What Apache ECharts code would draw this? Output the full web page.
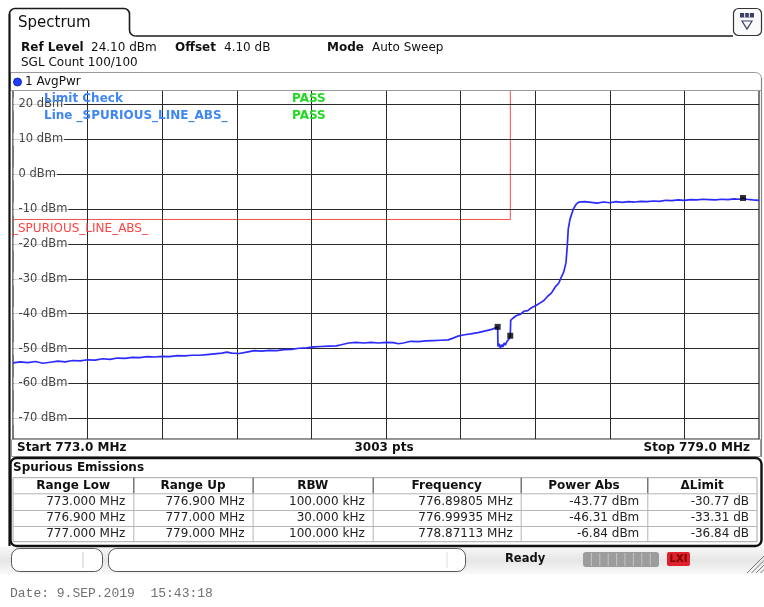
<!DOCTYPE html>
<html><head><meta charset="utf-8">
<script src="https://cdn.jsdelivr.net/npm/echarts@6/dist/echarts.min.js"></script>
<style>html,body{margin:0;padding:0;background:#fff}#c{width:764px;height:607px}</style>
</head><body><div id="c"></div>
<script>
// ---------- data ----------
const xMin = 773.0, xMax = 779.0;
const yMin = -75.9, yMax = 24.1;               // Ref Level 24.10 dBm, 10 dB/div
const yTicks = [20, 10, 0, -10, -20, -30, -40, -50, -60, -70];
const xTicks = [773.6, 774.2, 774.8, 775.4, 776.0, 776.6, 777.2, 777.8, 778.4];
const traceFreq = [773.00,773.06,773.12,773.18,773.24,773.30,773.36,773.42,773.48,773.54,773.60,773.66,773.72,773.78,773.84,773.90,773.96,774.02,774.08,774.14,774.20,774.26,774.32,774.38,774.44,774.50,774.56,774.62,774.68,774.72,774.76,774.82,774.88,774.94,775.00,775.06,775.12,775.18,775.24,775.30,775.36,775.42,775.48,775.54,775.60,775.64,775.70,775.76,775.82,775.88,775.94,776.00,776.06,776.10,776.14,776.20,776.26,776.32,776.38,776.44,776.50,776.54,776.58,776.62,776.68,776.74,776.80,776.85,776.89805,776.9005,776.91,776.92,776.93,776.94,776.95,776.96,776.97,776.98,776.99,776.99935,777.003,777.02,777.05,777.08,777.11,777.14,777.17,777.21,777.24,777.27,777.30,777.33,777.36,777.39,777.41,777.43,777.448,777.458,777.466,777.48,777.507,777.53,777.55,777.60,777.65,777.70,777.75,777.80,777.85,777.90,777.95,778.00,778.05,778.10,778.15,778.20,778.25,778.30,778.35,778.40,778.45,778.50,778.55,778.60,778.65,778.70,778.75,778.80,778.84,778.87113,778.90,778.95,779.00];
const traceDbm = [-54.1,-53.8,-54.0,-53.7,-54.2,-53.9,-53.6,-53.8,-53.4,-53.5,-53.2,-53.3,-52.9,-53.1,-52.7,-52.8,-52.5,-52.6,-52.3,-52.4,-52.2,-52.3,-52.0,-52.1,-51.9,-51.9,-51.7,-51.5,-51.3,-51.0,-51.3,-51.4,-51.0,-50.6,-50.7,-50.5,-50.6,-50.3,-50.2,-49.9,-49.8,-49.5,-49.4,-49.3,-49.2,-48.9,-48.4,-48.2,-48.4,-48.2,-48.4,-48.2,-48.3,-48.6,-48.4,-47.9,-48.0,-47.8,-47.7,-47.6,-47.5,-47.0,-46.4,-46.1,-45.8,-45.4,-44.9,-44.5,-43.77,-49.4,-48.6,-49.9,-48.9,-49.5,-48.4,-49.0,-48.1,-47.6,-47.2,-46.31,-41.9,-41.3,-40.5,-40.2,-39.3,-39.1,-38.3,-37.6,-36.9,-36.2,-35.0,-34.1,-32.4,-31.2,-29.5,-28.0,-25.3,-20.5,-15.7,-12.9,-10.0,-8.6,-8.0,-7.9,-8.1,-8.3,-8.0,-8.2,-7.9,-8.1,-7.9,-8.0,-7.8,-7.9,-7.7,-7.8,-7.5,-7.6,-7.4,-7.5,-7.3,-7.4,-7.2,-7.3,-7.4,-7.2,-7.3,-7.1,-7.2,-6.84,-7.2,-7.4,-7.5];
const rangeLow = [773.0, 776.9, 777.0];
const rangeUp = [776.9, 777.0, 779.0];
const rangeRbwKHz = [100, 30, 100];
const rangeLimit = [-13, -13, 30];
const peakFreq = [776.89805, 776.99935, 778.87113];
const peakDbm = [-43.77, -46.31, -6.84];
const tableHeaders = ['Range Low', 'Range Up', 'RBW', 'Frequency', 'Power Abs', '\u0394Limit'];

// ---------- helpers ----------
const FF = '"DejaVu Sans", Verdana, sans-serif';
const G = [];
function T(x, y, text, o) {
  o = o || {};
  G.push({type: 'text', x: x, y: y, z: o.z || 100, silent: true,
    style: {text: text, font: (o.bold ? 'bold ' : '') + (o.size || 12) + 'px ' + (o.family || FF),
      fill: o.fill || '#111', align: o.align || 'left', textAlign: o.align || 'left',
      verticalAlign: 'middle', textVerticalAlign: 'middle'}});
}
function R(x, y, w, h, o) {
  o = o || {};
  G.push({type: 'rect', z: o.z || 50, silent: true, shape: {x: x, y: y, width: w, height: h, r: o.r || 0},
    style: {fill: o.fill === undefined ? 'none' : o.fill, stroke: o.stroke || null, lineWidth: o.lw || 1}});
}
function L(x1, y1, x2, y2, o) {
  o = o || {};
  G.push({type: 'line', z: o.z || 60, silent: true, shape: {x1: x1, y1: y1, x2: x2, y2: y2},
    style: {stroke: o.stroke || '#222', lineWidth: o.lw || 1}});
}
function A(cx, cy, r, a0, a1, o) {
  o = o || {};
  G.push({type: 'arc', z: o.z || 60, silent: true, shape: {cx: cx, cy: cy, r: r, startAngle: a0, endAngle: a1, clockwise: true},
    style: {stroke: o.stroke || '#222', lineWidth: o.lw || 1, fill: 'none'}});
}

// ---------- chrome ----------
const TAB = {stroke: '#1a1a1a', lw: 1.6};
L(9.5, 546, 9.5, 14, {stroke: '#111', lw: 2.2});
A(15, 14, 5.5, Math.PI, Math.PI * 1.5, TAB);
L(15, 8.5, 124, 8.5, TAB);
A(124, 14, 5.5, Math.PI * 1.5, Math.PI * 2, TAB);
L(129.5, 14, 129.5, 30, TAB);
A(135.5, 30, 6, Math.PI / 2, Math.PI, TAB);
L(135.5, 36, 733, 36, TAB);
T(18, 23, 'Spectrum', {size: 15});
// top-right icon
R(733.5, 8.5, 28, 27, {r: 5, stroke: '#333', fill: '#fafafa', lw: 1.2});
R(740, 13, 14, 4.5, {fill: '#3a3f66'});
L(744.7, 13, 744.7, 17.5, {stroke: '#fff', z: 61});
L(749.3, 13, 749.3, 17.5, {stroke: '#fff', z: 61});
G.push({type: 'polygon', z: 60, silent: true, shape: {points: [[742, 21], [752, 21], [747, 29]]},
  style: {fill: 'none', stroke: '#3a3f66', lineWidth: 1.2}});

T(21, 48, 'Ref Level', {bold: true});
T(91, 48, '24.10 dBm');
T(175, 48, 'Offset', {bold: true});
T(224, 48, '4.10 dB');
T(327, 48, 'Mode', {bold: true});
T(372, 48, 'Auto Sweep');
T(21, 63, 'SGL Count 100/100');

// trace title bar
R(10.5, 72.5, 751, 18, {r: [0, 6, 0, 0], stroke: '#9a9a9a', fill: '#fff', z: 40});
G.push({type: 'circle', z: 60, silent: true, shape: {cx: 17.5, cy: 82, r: 4},
  style: {fill: '#1f3cff', stroke: '#0a1a99', lineWidth: 0.8}});
T(25, 82, '1 AvgPwr');
L(761.5, 78, 761.5, 457, {stroke: '#888', lw: 1.2});

// limit check texts
T(44, 99, 'Limit Check', {bold: true, fill: '#3f86f4', z: 120});
T(44, 116, 'Line _SPURIOUS_LINE_ABS_', {bold: true, fill: '#3f86f4', z: 120});
T(292, 99, 'PASS', {bold: true, fill: '#22d822', z: 120});
T(292, 116, 'PASS', {bold: true, fill: '#22d822', z: 120});
T(12, 229, '_SPURIOUS_LINE_ABS_', {fill: '#ff4242', z: 120});

// start/stop bar
R(11.5, 439.5, 749, 17, {stroke: '#9a9a9a', fill: '#fff', z: 40});
T(17, 448, 'Start ' + xMin.toFixed(1) + ' MHz', {bold: true});
T(384, 448, '3003 pts', {bold: true, align: 'center'});
T(750, 448, 'Stop ' + xMax.toFixed(1) + ' MHz', {bold: true, align: 'right'});

// table
R(10.5, 458, 751, 88, {r: 6, stroke: '#111', fill: '#fff', lw: 2.4, z: 40});
T(13, 468, 'Spurious Emissions', {bold: true});
const colX = [13, 133.3, 252.6, 372.7, 520.7, 647.3, 757];
const rowY = [477.7, 493.3, 510, 526, 541.7];
R(13, 477.7, 744, 64, {fill: '#fff', stroke: '#a8a8a8', z: 45});
for (let i = 1; i < 4; i++) L(13, rowY[i] + 0.5, 757, rowY[i] + 0.5, {stroke: '#b5b5b5'});
for (let j = 1; j < 6; j++) {
  L(colX[j] + 0.5, rowY[0], colX[j] + 0.5, rowY[1], {stroke: '#555', lw: 1.2});
  L(colX[j] + 0.5, rowY[1], colX[j] + 0.5, rowY[4], {stroke: '#b5b5b5'});
}
for (let j = 0; j < 6; j++) T((colX[j] + colX[j + 1]) / 2, 485.5, tableHeaders[j], {bold: true, align: 'center'});
const rowsCenter = [501.7, 518, 534];
for (let i = 0; i < 3; i++) {
  const cells = [
    rangeLow[i].toFixed(3) + ' MHz',
    rangeUp[i].toFixed(3) + ' MHz',
    rangeRbwKHz[i].toFixed(3) + ' kHz',
    peakFreq[i].toFixed(5) + ' MHz',
    peakDbm[i].toFixed(2) + ' dBm',
    (peakDbm[i] - rangeLimit[i]).toFixed(2) + ' dB'
  ];
  for (let j = 0; j < 6; j++) T(colX[j + 1] - 8, rowsCenter[i], cells[j], {align: 'right', fill: '#222'});
}

// bottom status bar
G.push({type: 'rect', z: 10, silent: true, shape: {x: 0, y: 547, width: 764, height: 27},
  style: {fill: new echarts.graphic.LinearGradient(0, 0, 0, 1, [{offset: 0, color: '#f7f7f7'}, {offset: 0.5, color: '#e6e6e6'}, {offset: 1, color: '#f9f9f9'}])}});
R(11.5, 548.5, 91, 23, {r: 8, stroke: '#555', fill: '#fff'});
L(83, 552, 83, 568, {stroke: '#ccc'});
R(108.5, 548.5, 357, 23, {r: 8, stroke: '#555', fill: '#fff'});
L(447, 552, 447, 568, {stroke: '#ddd'});
T(505, 559.5, 'Ready', {bold: true, size: 11.5});
R(583, 552, 76, 15, {r: 3, fill: '#9c9c9c'});
for (let k = 1; k < 9; k++) L(583 + k * 8.4, 553, 583 + k * 8.4, 566, {stroke: '#c4c4c4'});
R(667, 552, 23, 14, {r: 2, fill: '#e0202c'});
T(678.5, 559, 'LXI', {bold: true, size: 10, fill: '#7a0000', align: 'center', family: '"DejaVu Sans"'});
for (let k = 0; k < 4; k++) L(747 + k * 4.5, 573, 764, 556 + k * 4.5, {stroke: '#777', lw: 1});
T(10, 594, 'Date: 9.SEP.2019  15:43:18', {family: '"Liberation Mono", "DejaVu Sans Mono", monospace', size: 13, fill: '#707070'});

// ---------- chart ----------
const chart = echarts.init(document.getElementById('c'), null, {renderer: 'canvas'});
const gridLines = yTicks.map(v => ({yAxis: v})).concat(xTicks.map(v => ({xAxis: v})));
const limitLine = [];
rangeLow.forEach((lo, i) => { limitLine.push([lo, rangeLimit[i]]); limitLine.push([rangeUp[i], rangeLimit[i]]); });

chart.setOption({
  animation: false,
  backgroundColor: '#fff',
  grid: {left: 13, top: 90, width: 746, height: 349, show: true, borderColor: '#222', borderWidth: 1.2, backgroundColor: 'transparent', z: 2},
  xAxis: {type: 'value', min: xMin, max: xMax, show: false},
  yAxis: {type: 'value', min: yMin, max: yMax, show: false},
  graphic: {elements: G},
  series: [
    {name: 'grid', type: 'line', data: [], silent: true, z: 1,
      markLine: {silent: true, symbol: 'none', label: {show: false}, animation: false,
        lineStyle: {color: '#2a2a2a', width: 1, type: 'solid'}, data: gridLines}},
    {name: 'yLabels', type: 'scatter', silent: true, z: 6, symbolSize: 1,
      itemStyle: {color: 'rgba(0,0,0,0)'},
      data: yTicks.map(v => [xMin, v]),
      label: {show: true, position: 'right', distance: 0, formatter: p => p.value[1] + ' dBm',
        color: '#111', fontSize: 11.5, fontFamily: FF, backgroundColor: '#fff', padding: [1, 1, 0, 5]}},
    {name: 'limit', type: 'line', data: limitLine, symbol: 'none', silent: true, z: 4, clip: true,
      lineStyle: {color: '#f25050', width: 1}},
    {name: 'AvgPwr', type: 'line', symbol: 'none', silent: true, z: 5, clip: true,
      data: traceFreq.map((f, i) => [f, traceDbm[i]]),
      lineStyle: {color: '#2b2bff', width: 1.7}},
    {name: 'peaks', type: 'scatter', symbol: 'rect', symbolSize: 6, silent: true, z: 7,
      itemStyle: {color: '#000'}, data: peakFreq.map((f, i) => [f, peakDbm[i]])}
  ]
});
</script></body></html>
